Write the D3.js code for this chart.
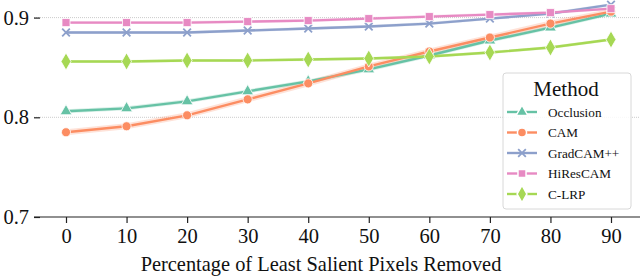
<!DOCTYPE html>
<html>
<head>
<meta charset="utf-8">
<script src="https://cdn.jsdelivr.net/npm/d3@7"></script>
<style>
  body { margin: 0; background: #fff; }
  svg { display: block; font-family: "Liberation Serif", "DejaVu Serif", serif; }
</style>
</head>
<body>
<svg width="640" height="276"></svg>
<script>
// data
var percents = [0, 10, 20, 30, 40, 50, 60, 70, 80, 90];
var methods = ["Occlusion", "CAM", "GradCAM++", "HiResCAM", "C-LRP"];
var occlusion = [0.806, 0.809, 0.816, 0.826, 0.836, 0.848, 0.862, 0.877, 0.890, 0.904];
var cam       = [0.785, 0.791, 0.802, 0.818, 0.834, 0.851, 0.866, 0.880, 0.894, 0.906];
var gradcampp = [0.885, 0.885, 0.885, 0.887, 0.889, 0.891, 0.894, 0.899, 0.904, 0.913];
var hirescam  = [0.895, 0.895, 0.895, 0.896, 0.897, 0.899, 0.901, 0.903, 0.905, 0.909];
var clrp      = [0.856, 0.856, 0.857, 0.857, 0.858, 0.859, 0.861, 0.865, 0.870, 0.878];
var spread = [0.002, 0.003, 0.0015, 0.0015, 0.0015]; // half width of the shaded band
var yTicks = [0.7, 0.8, 0.9];

var colors = ["#66c2a5", "#fc8d62", "#8da0cb", "#e78ac3", "#a6d854"];
var symbols = [d3.symbolTriangle, d3.symbolCircle, d3.symbolX, d3.symbolSquare, d3.symbolDiamond];
var symSize = [60, 65, 40, 65, 85];
var series = [occlusion, cam, gradcampp, hirescam, clrp];

var svg = d3.select("svg");

var x = d3.scaleLinear().domain([0, 90]).range([66, 611]);
var y = d3.scaleLinear().domain([0.7, 0.9]).range([217, 17.6]);

// grid lines (dotted)
svg.append("g").selectAll("line")
  .data(yTicks.slice(1))
  .join("line")
  .attr("x1", 34).attr("x2", 640)
  .attr("y1", function(d) { return y(d); }).attr("y2", function(d) { return y(d); })
  .attr("stroke", "#cccccc").attr("stroke-width", 1).attr("stroke-dasharray", "1,1");

// x axis
var xAxis = svg.append("g").attr("transform", "translate(0,217)")
  .call(d3.axisBottom(x).tickValues(percents).tickSize(6).tickPadding(5));
xAxis.select(".domain").remove();
xAxis.append("line").attr("x1", 34).attr("x2", 640).attr("stroke", "#222").attr("stroke-width", 1.2);
xAxis.selectAll(".tick line").attr("stroke", "#222").attr("stroke-width", 1.2);
xAxis.selectAll(".tick text").attr("font-size", 20.5).attr("fill", "#111")
  .attr("font-family", "Liberation Serif");

// y axis (no spine)
var yAxis = svg.append("g").attr("transform", "translate(40,0)")
  .call(d3.axisLeft(y).tickValues(yTicks).tickFormat(d3.format(".1f")).tickSize(6).tickPadding(5));
yAxis.select(".domain").remove();
yAxis.selectAll(".tick line").attr("stroke", "#222").attr("stroke-width", 1.2);
yAxis.selectAll(".tick text").attr("font-size", 20.5).attr("fill", "#111")
  .attr("font-family", "Liberation Serif");

svg.append("text")
  .attr("x", 321).attr("y", 271)
  .attr("text-anchor", "middle")
  .attr("font-size", 20.4).attr("fill", "#111")
  .text("Percentage of Least Salient Pixels Removed");

// bands, lines, markers
var line = d3.line().x(function(d, i) { return x(percents[i]); }).y(function(d) { return y(d); });

series.forEach(function(vals, k) {
  var area = d3.area()
    .x(function(d, i) { return x(percents[i]); })
    .y0(function(d) { return y(d - spread[k]); })
    .y1(function(d) { return y(d + spread[k]); });
  svg.append("path").attr("d", area(vals))
    .attr("fill", colors[k]).attr("fill-opacity", 0.25);
});

series.forEach(function(vals, k) {
  svg.append("path").attr("d", line(vals))
    .attr("fill", "none").attr("stroke", colors[k]).attr("stroke-width", 2.4);
  svg.append("g").selectAll("path")
    .data(vals)
    .join("path")
    .attr("transform", function(d, i) { return "translate(" + x(percents[i]) + "," + y(d) + ")"; })
    .attr("d", d3.symbol().type(symbols[k]).size(symSize[k]))
    .attr("fill", colors[k])
    .attr("stroke", k == 2 ? colors[k] : "#fff")
    .attr("stroke-width", k == 2 ? 1.8 : 0.8);
});

// legend
var lg = svg.append("g");
lg.append("rect").attr("x", 503).attr("y", 73).attr("width", 128).attr("height", 136)
  .attr("rx", 3).attr("fill", "#fff").attr("fill-opacity", 0.85)
  .attr("stroke", "#d8d8d8").attr("stroke-width", 1);
lg.append("text").attr("x", 566).attr("y", 96).attr("text-anchor", "middle")
  .attr("font-size", 21).attr("fill", "#111").text("Method");

methods.forEach(function(m, k) {
  var cy = 112 + k * 20.5;
  lg.append("line").attr("x1", 507).attr("x2", 537).attr("y1", cy).attr("y2", cy)
    .attr("stroke", colors[k]).attr("stroke-width", 2.4);
  lg.append("path").attr("transform", "translate(522," + cy + ")")
    .attr("d", d3.symbol().type(symbols[k]).size(symSize[k]))
    .attr("fill", colors[k])
    .attr("stroke", k == 2 ? colors[k] : "#fff")
    .attr("stroke-width", k == 2 ? 1.8 : 1.5);
  lg.append("text").attr("x", 548).attr("y", cy).attr("dy", "0.35em")
    .attr("font-size", 13.2).attr("fill", "#111").text(m);
});
</script>
</body>
</html>
